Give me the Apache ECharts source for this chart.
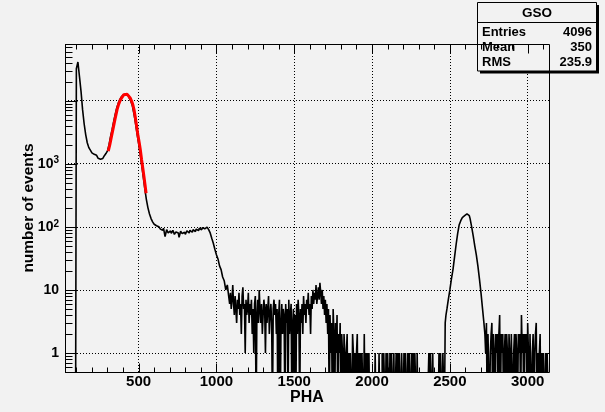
<!DOCTYPE html>
<html>
<head>
<meta charset="utf-8">
<script src="https://cdn.jsdelivr.net/npm/echarts@6/dist/echarts.min.js"></script>
<style>
html, body { margin: 0; padding: 0; background: #f2f2f2; }
#chart { width: 605px; height: 412px; }
</style>
</head>
<body>
<div id="chart"></div>
<script>
// GSO spectrum. Smooth parts in 10-channel bins,
// noisy parts in 5-channel bins.
var lowStart = 30, lowWidth = 10;
var lowCounts = [
    0, 0, 0, 0, 0, 0, 0,
    32000, 41000, 24000, 14000, 7200, 4300, 2900, 2150, 1800, 1640,
    1490, 1410, 1360, 1270, 1220, 1180, 1215, 1260, 1340, 1450,
    1600, 2000, 2700, 3500, 4700, 6100, 7700, 9200, 10500, 11600,
    12400, 12900, 12700, 12100, 11000, 9800, 8300, 6200, 4400, 3000,
    2100, 1400, 950, 620, 400, 270, 200, 160, 135, 120,
    110, 104, 100, 97, 92, 88, 95, 70, 90, 80,
    86, 79, 88, 76, 83, 80, 68, 85, 78, 82,
    76, 86, 80, 88, 82, 90, 84, 92, 87, 95,
    90, 97, 93, 99, 95, 90, 80, 66, 55, 44,
    36, 31, 24, 21, 16, 14, 10, 12
];

var tailStart = 1080, tailWidth = 5;
var tailCounts = [
    8, 6, 9, 5, 7, 12, 6, 4, 8, 5,
    3, 7, 5, 9, 4, 6, 2, 8, 11, 5,
    6, 1, 7, 4, 5, 9, 3, 6, 4, 7,
    2, 5, 1, 6, 8, 0, 4, 7, 3, 10,
    5, 3, 6, 2, 4, 7, 5, 1, 6, 3,
    5, 8, 2, 4, 6, 3, 0, 5, 7, 4,
    6, 2, 5, 0, 4, 7, 0, 3, 6, 2,
    5, 4, 0, 6, 3, 5, 0, 7, 2, 4,
    6, 0, 3, 5, 0, 4, 0, 6, 2, 7,
    4, 0, 5, 3, 6, 2, 8, 4, 6, 3,
    7, 5, 9, 4, 6, 2, 8, 5, 10, 6,
    9, 7, 12, 6, 8, 11, 7, 13, 9, 6,
    10, 5, 8, 4, 7, 3, 6, 2, 5, 0,
    4, 1, 3, 0, 5, 2, 0, 3, 1, 4,
    0, 2, 1, 3, 0, 2, 1, 0, 2, 1,
    0, 1, 2, 0, 1, 0, 1, 1, 0, 2,
    1, 0, 1, 0, 1, 2, 0, 1, 0, 1,
    0, 1, 1, 0, 2, 0, 1, 0, 1, 0,
    1, 0, 0, 0, 0, 0, 0, 0, 1, 0,
    0, 0, 0, 1, 0, 0, 0, 1, 0, 1,
    1, 0, 1, 0, 1, 1, 0, 1, 0, 1,
    1, 0, 1, 0, 0, 1, 0, 1, 0, 1,
    1, 0, 1, 1, 0, 1, 0, 1, 1, 0,
    1, 0, 1, 1, 0, 1, 0, 1, 0, 1,
    1, 0, 1, 0, 0, 0, 0, 0, 0, 0,
    0, 0, 0, 0, 0, 0, 0, 1, 0, 1,
    1, 0, 1, 0, 0, 0, 0, 0, 0, 0,
    1, 0, 1, 1, 0, 1, 1, 0, 3, 4
];

var peakStart = 2480, peakWidth = 10;
var peakCounts = [5, 7, 10, 15, 21, 33, 52, 78, 108, 125, 140, 150,
    160, 163, 150, 135, 100, 72, 50, 36, 24, 15, 9, 5];

var endStart = 2720, endWidth = 5;
var endCounts = [
    3, 2, 1, 3, 0, 2, 2, 0, 1, 2,
    3, 0, 2, 1, 0, 2, 1, 2, 0, 2,
    4, 0, 2, 1, 2, 0, 1, 2, 0, 2,
    1, 0, 2, 1, 0, 2, 2, 0, 1, 2,
    0, 2, 1, 0, 2, 1, 2, 0, 4, 1,
    2, 0, 2, 1, 2, 0, 3, 1, 0, 2,
    2, 0, 1, 2, 0, 1, 2, 3, 0, 1,
    0, 1, 2, 0, 1, 0, 1, 1, 0, 1,
    0, 1, 1, 0
];

// red fit curve over the first peak
var fitChannels = [305, 315, 326, 337, 348, 362, 372, 380, 390, 397, 405, 416, 427, 438,
    447, 455, 463, 470, 478, 487, 495, 504, 512, 519, 527, 534, 541, 548];
var fitValues = [1585, 2000, 2740, 3700, 5050, 7280, 8800, 9860, 11000, 11800, 12400, 12900, 12600, 11800,
    10900, 9860, 8600, 7280, 5600, 3950, 2900, 2150, 1600, 1170, 850, 635, 470, 340];

var xMin = 27, xMax = 3137;
var yMin = 0.5, yMax = 79000;
var xLabels = [500, 1000, 1500, 2000, 2500, 3000];
var yLabels = { '0': '1', '1': '10', '2': '10{s|2}', '3': '10{s|3}' };
var statsTitle = 'GSO';
var statsRows = [['Entries', '4096'], ['Mean', '350'], ['RMS', '235.9']];

var FONT = '"Liberation Sans", Arial, sans-serif';

// tick positions for the frame (ROOT style: minor every 100, log minors 2..9)
var xMajor = [], xMinor = [], yMajor = [], yMinor = [];
for (var t = 100; t < xMax; t += 100) {
    if (t % 500 === 0) xMajor.push(t); else xMinor.push(t);
}
for (var d = -1; d <= 4; d++) {
    var p = Math.pow(10, d);
    if (p >= yMin && p <= yMax) yMajor.push(p);
    for (var k = 2; k <= 9; k++) {
        if (k * p > yMin && k * p < yMax) yMinor.push(k * p);
    }
}

// bin centres; empty bins go below the axis so the line drops to the frame
function toPoints(start, width, arr) {
    return arr.map(function (v, i) {
        return [start + width * (i + 0.5), v > 0 ? v : 0.1];
    });
}
var histData = []
    .concat(toPoints(lowStart, lowWidth, lowCounts))
    .concat(toPoints(tailStart, tailWidth, tailCounts))
    .concat(toPoints(peakStart, peakWidth, peakCounts))
    .concat(toPoints(endStart, endWidth, endCounts));
var fitData = fitChannels.map(function (c, i) { return [c, fitValues[i]]; });

function renderFrame(params, api) {
    var cs = params.coordSys;
    var L = Math.round(cs.x) + 0.5, T = Math.round(cs.y) + 0.5;
    var R = Math.round(cs.x + cs.width) + 0.5, B = Math.round(cs.y + cs.height) + 0.5;
    var st = { stroke: '#000', lineWidth: 1 };
    var kids = [];
    function seg(x1, y1, x2, y2) {
        kids.push({ type: 'line', shape: { x1: x1, y1: y1, x2: x2, y2: y2 }, style: st });
    }
    xMajor.forEach(function (v) {
        var x = Math.round(api.coord([v, 1])[0]) + 0.5;
        seg(x, B, x, B - 9); seg(x, T, x, T + 9);
    });
    xMinor.forEach(function (v) {
        var x = Math.round(api.coord([v, 1])[0]) + 0.5;
        seg(x, B, x, B - 5); seg(x, T, x, T + 5);
    });
    yMajor.forEach(function (v) {
        var y = Math.round(api.coord([xMin, v])[1]) + 0.5;
        seg(L, y, L + 12, y);
    });
    yMinor.forEach(function (v) {
        var y = Math.round(api.coord([xMin, v])[1]) + 0.5;
        seg(L, y, L + 7, y);
    });
    kids.push({ type: 'rect', shape: { x: L, y: T, width: R - L, height: B - T },
        style: { fill: 'none', stroke: '#000', lineWidth: 1 } });
    return { type: 'group', children: kids };
}

var statsEls = [
    { type: 'rect', z: 5, shape: { x: 480, y: 5, width: 119, height: 68.5 }, style: { fill: '#000' } },
    { type: 'rect', z: 5, shape: { x: 477.5, y: 2.5, width: 119, height: 68.5 },
        style: { fill: '#f2f2f2', stroke: '#000', lineWidth: 1 } },
    { type: 'line', z: 5, shape: { x1: 477.5, y1: 22.5, x2: 596.5, y2: 22.5 }, style: { stroke: '#000', lineWidth: 1 } },
    { type: 'text', z: 6, style: { text: statsTitle, x: 537, y: 13, font: 'bold 13.5px ' + FONT,
        fill: '#000', align: 'center', verticalAlign: 'middle', textAlign: 'center', textVerticalAlign: 'middle' } }
];
statsRows.forEach(function (r, i) {
    var y = 32 + i * 15.2;
    statsEls.push({ type: 'text', z: 6, style: { text: r[0], x: 482, y: y, font: 'bold 13px ' + FONT,
        fill: '#000', align: 'left', verticalAlign: 'middle', textAlign: 'left', textVerticalAlign: 'middle' } });
    statsEls.push({ type: 'text', z: 6, style: { text: r[1], x: 592, y: y, font: 'bold 13px ' + FONT,
        fill: '#000', align: 'right', verticalAlign: 'middle', textAlign: 'right', textVerticalAlign: 'middle' } });
});

var myChart = echarts.init(document.getElementById('chart'));
myChart.setOption({
    backgroundColor: '#f2f2f2',
    animation: false,
    grid: { left: 65, top: 44, width: 484, height: 328, outerBoundsMode: 'none', containLabel: false },
    xAxis: {
        type: 'value', min: xMin, max: xMax,
        axisLine: { show: false }, axisTick: { show: false },
        splitLine: { show: true, lineStyle: { color: '#000', width: 1, type: [1, 2] } },
        axisLabel: {
            margin: 2, color: '#000', fontSize: 15, fontWeight: 'bold', fontFamily: FONT,
            formatter: function (v) { return xLabels.indexOf(v) >= 0 ? String(v) : ''; }
        },
        name: 'PHA', nameLocation: 'middle', nameGap: 18, nameMoveOverlap: false,
        nameTextStyle: { color: '#000', fontSize: 16, fontWeight: 'bold', fontFamily: FONT }
    },
    yAxis: {
        type: 'log', logBase: 10, min: yMin, max: yMax,
        axisLine: { show: false }, axisTick: { show: false },
        splitLine: { show: true, lineStyle: { color: '#000', width: 1, type: [1, 2] } },
        axisLabel: {
            margin: 6, color: '#000', fontSize: 14, fontWeight: 'bold', fontFamily: FONT,
            formatter: function (v) {
                var e = Math.log10(v), r = Math.round(e);
                if (Math.abs(e - r) > 1e-6) return '';
                return yLabels[String(r)] || '';
            },
            rich: {
                s: { fontSize: 10, fontWeight: 'bold', fontFamily: FONT, color: '#000', verticalAlign: 'top', padding: [0, 0, 6, 0] }
            }
        },
        name: 'number of events', nameLocation: 'middle', nameGap: 28, nameRotate: 90, nameMoveOverlap: false,
        nameTextStyle: { color: '#000', fontSize: 15.5, fontWeight: 'bold', fontFamily: FONT }
    },
    graphic: { elements: statsEls },
    series: [
        {
            name: 'GSO', type: 'line', data: histData, step: 'middle', symbol: 'none',
            lineStyle: { color: '#000', width: 1.6 }, clip: true, z: 2
        },
        {
            name: 'fit', type: 'line', data: fitData, symbol: 'none',
            lineStyle: { color: '#ff0000', width: 3 }, clip: true, z: 3
        },
        {
            name: 'frame', type: 'custom', data: [[xMin, yMin]], renderItem: renderFrame,
            silent: true, z: 10
        }
    ]
});
</script>
</body>
</html>
